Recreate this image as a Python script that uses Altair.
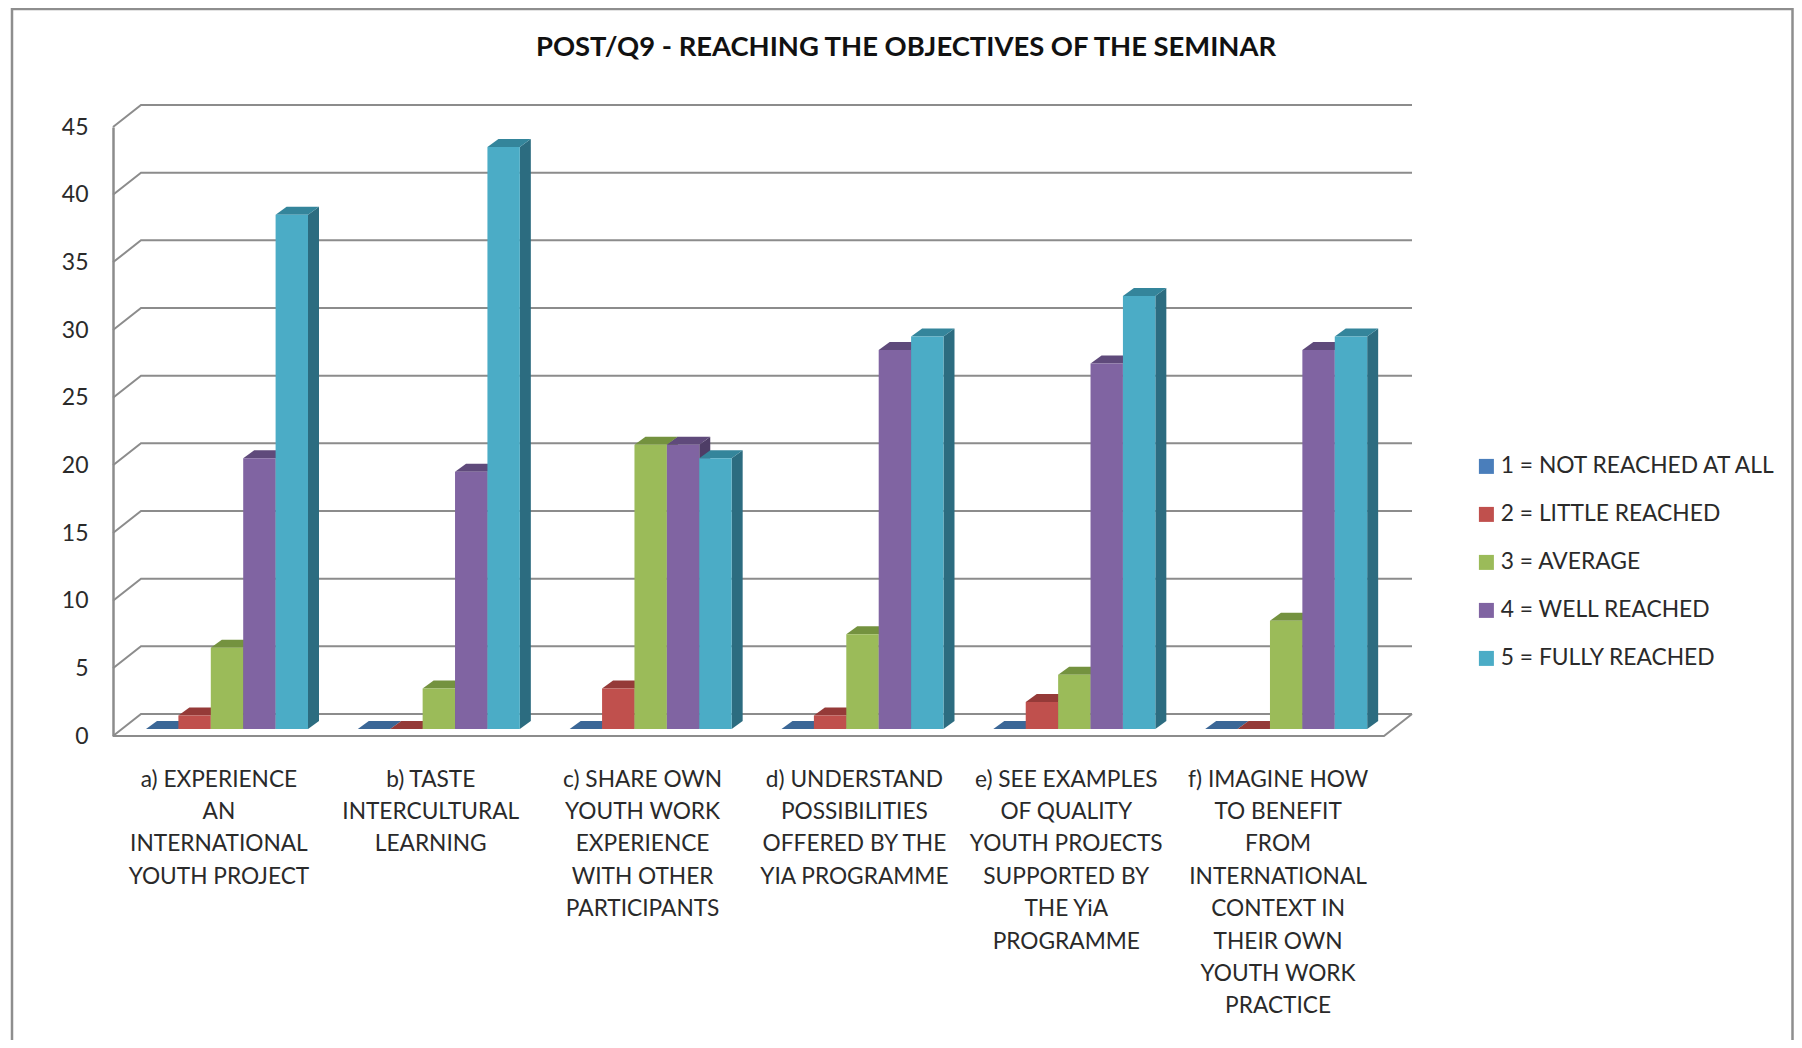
import altair as alt
import pandas as pd

categories = [
    "a) EXPERIENCE\nAN\nINTERNATIONAL\nYOUTH PROJECT",
    "b) TASTE\nINTERCULTURAL\nLEARNING",
    "c) SHARE OWN\nYOUTH WORK\nEXPERIENCE\nWITH OTHER\nPARTICIPANTS",
    "d) UNDERSTAND\nPOSSIBILITIES\nOFFERED BY THE\nYIA PROGRAMME",
    "e) SEE EXAMPLES\nOF QUALITY\nYOUTH PROJECTS\nSUPPORTED BY\nTHE YiA\nPROGRAMME",
    "f) IMAGINE HOW\nTO BENEFIT\nFROM\nINTERNATIONAL\nCONTEXT IN\nTHEIR OWN\nYOUTH WORK\nPRACTICE",
]
series = ["1 = NOT REACHED AT ALL", "2 = LITTLE REACHED", "3 = AVERAGE", "4 = WELL REACHED", "5 = FULLY REACHED"]
s1 = [0, 0, 0, 0, 0, 0]
s2 = [1, 0, 3, 1, 2, 0]
s3 = [6, 3, 21, 7, 4, 8]
s4 = [20, 19, 21, 28, 27, 28]
s5 = [38, 43, 20, 29, 32, 29]
values = [s1, s2, s3, s4, s5]

front = ["#4A7EBB", "#C0504D", "#9BBB59", "#8064A2", "#4BACC6"]
top = ["#3B6797", "#953A38", "#74923F", "#5F4A7B", "#34859B"]
side = ["#2F5580", "#7A2F2D", "#5F7833", "#4E3D66", "#2C6C80"]
GRID = "#8C8C8C"
TEXT = "#2A2A2A"
FONT = "Lato"

PW, PH = 1271, 609
UX = 6 / PW
UY = 45 / PH
WALL_DX, WALL_DY = 28 * UX, 22 * UY
BAR_DX, BAR_DY = 11 * UX, 8 * UY
BASE = 7 * UY
BAR_W = 32.4 * UX
BAR_START = 33 * UX

xs = alt.Scale(domain=[0, 6], nice=False, zero=False)
ys = alt.Scale(domain=[0, 45], nice=False, zero=False)


def X(f="x"):
    return alt.X(f"{f}:Q", scale=xs, axis=None)


def Y(f="y", **kw):
    return alt.Y(f"{f}:Q", scale=ys, stack=None, **kw)


# frame of the pseudo-3D walls and floor
wall_rows = []
for v in range(0, 50, 5):
    wall_rows += [
        dict(id=v, x=0, y=v),
        dict(id=v, x=WALL_DX, y=v + WALL_DY),
        dict(id=v, x=6 + WALL_DX, y=v + WALL_DY),
    ]
wall_rows += [dict(id=-1, x=0, y=0), dict(id=-1, x=6, y=0), dict(id=-1, x=6 + WALL_DX, y=WALL_DY)]
walls = (
    alt.Chart(pd.DataFrame(wall_rows))
    .mark_line(color=GRID, strokeWidth=2)
    .encode(
        x=X(),
        y=Y(
            axis=alt.Axis(
                values=list(range(0, 50, 5)), title=None, grid=False, ticks=False,
                domain=True, domainColor=GRID, domainWidth=2.5,
                labelFont=FONT, labelFontSize=23, labelColor=TEXT, labelPadding=25,
                labelOffset=0,
            )
        ),
        detail="id:N",
    )
)

layers = [walls]
color = alt.Color(
    "s:N",
    scale=alt.Scale(domain=series, range=front),
    legend=alt.Legend(
        orient="none", legendX=1362, legendY=328, title=None, symbolType="square",
        symbolSize=225, symbolStrokeWidth=0, labelFont=FONT, labelFontSize=22.8,
        labelColor=TEXT, labelLimit=400, rowPadding=24, labelOffset=3, padding=0,
    ),
)
for si, name in enumerate(series):
    sd, tp, fr = [], [], []
    for ci in range(6):
        v = values[si][ci]
        xl = ci + BAR_START + si * BAR_W
        xr = xl + BAR_W
        yf = v + BASE
        sd += [
            dict(c=ci, x=xr, y=yf, y2=BASE),
            dict(c=ci, x=xr + BAR_DX, y=yf + BAR_DY, y2=BASE + BAR_DY),
        ]
        tp += [
            dict(c=ci, y=yf, x=xl, x2=xr),
            dict(c=ci, y=yf + BAR_DY, x=xl + BAR_DX, x2=xr + BAR_DX),
        ]
        fr.append(dict(s=name, x=xl, x2=xr, y=yf, y2=BASE))
    layers.append(
        alt.Chart(pd.DataFrame(sd)).mark_area(color=side[si], opacity=1).encode(
            x=X(), y=Y(), y2="y2:Q", detail="c:N"
        )
    )
    layers.append(
        alt.Chart(pd.DataFrame(tp)).mark_area(color=top[si], orient="horizontal", opacity=1).encode(
            y=Y(), x=X(), x2="x2:Q", detail="c:N"
        )
    )
    layers.append(
        alt.Chart(pd.DataFrame(fr)).mark_rect().encode(
            x=X(), x2="x2:Q", y=Y(), y2="y2:Q", color=color
        )
    )

labels = (
    alt.Chart(pd.DataFrame(dict(t=categories, x=[i + 0.5 for i in range(6)])))
    .mark_text(font=FONT, fontSize=22.7, color=TEXT, lineBreak="\n", lineHeight=32.4, baseline="top", align="center")
    .encode(x=X(), y=alt.value(641.5), text="t:N")
)
title = (
    alt.Chart(pd.DataFrame(dict(t=["POST/Q9 - REACHING THE OBJECTIVES OF THE SEMINAR"])))
    .mark_text(font=FONT, fontSize=27.4, fontWeight="bold", color="#111111", align="center", baseline="middle")
    .encode(x=alt.value(793), y=alt.value(-79), text="t:N")
)
one = pd.DataFrame(dict(a=[0]))
border_style = dict(color="#8E8E8E", strokeWidth=2.5)
left_b = alt.Chart(one).mark_rule(**border_style).encode(x=alt.value(-101), y=alt.value(-119), y2=alt.value(913))
right_b = alt.Chart(one).mark_rule(**border_style).encode(x=alt.value(1679.5), y=alt.value(-119), y2=alt.value(913))
top_b = alt.Chart(one).mark_rule(**border_style).encode(x=alt.value(-101), x2=alt.value(1679.5), y=alt.value(-118))

chart = (
    alt.layer(*layers, labels, title, left_b, right_b, top_b)
    .properties(
        width=PW, height=PH, background="white",
        padding={"left": 105, "top": 119, "right": 410, "bottom": 304},
        autosize=alt.AutoSizeParams(type="none"),
    )
    .configure_view(stroke=None)
)
chart.save("out.html", embed_options={"renderer": "svg", "actions": False})
